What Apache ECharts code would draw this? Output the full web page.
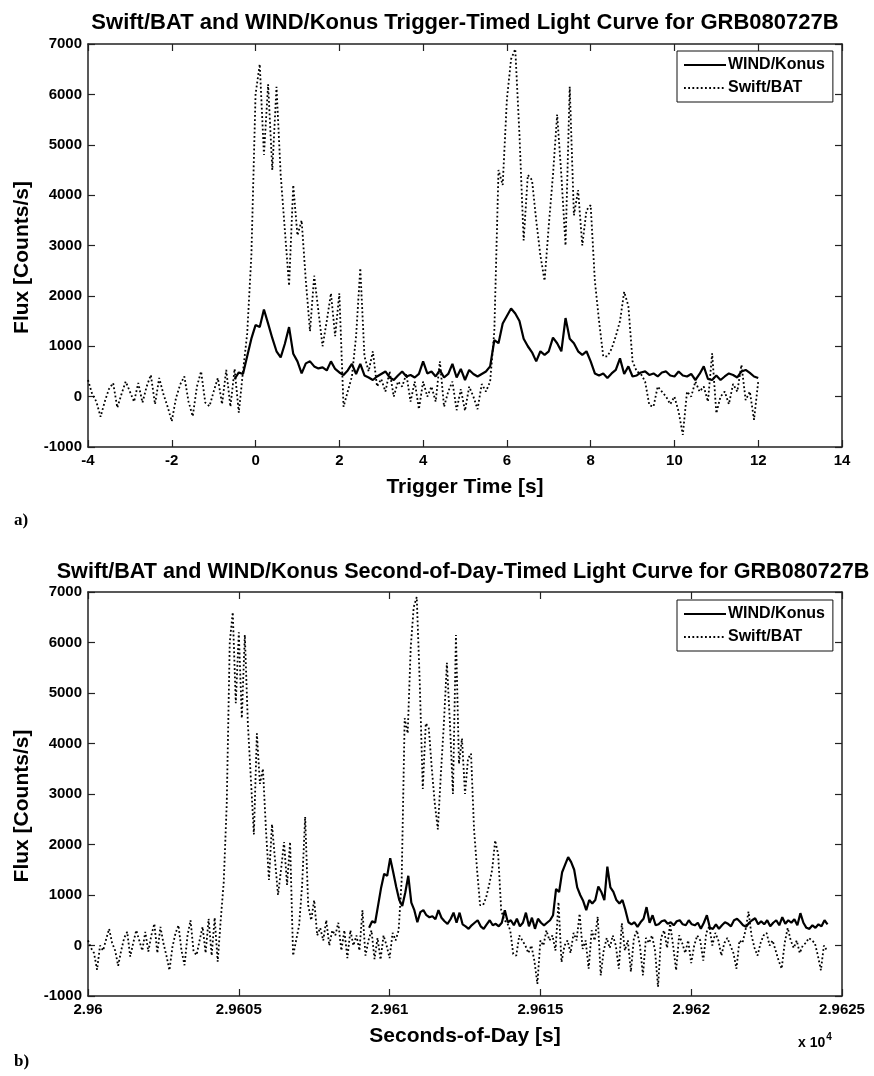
<!DOCTYPE html>
<html>
<head>
<meta charset="utf-8">
<title>GRB080727B light curves</title>
<script src="https://cdn.jsdelivr.net/npm/echarts@6/dist/echarts.min.js"></script>
<style>
    html, body { margin: 0; padding: 0; background: #fff; }
    #chart { width: 874px; height: 1076px; }
</style>
</head>
<body>
<div id="chart"></div>
<script>
    // Swift/BAT flux [counts/s], 0.1 s bins, trigger time starting at -4.7 s
    const batStart = -4.7;
    const batFlux = [
        100, -50, -150, -480, 0, -100, 120,
        330, 50, -100, -400, -100, 150, 270, -220, 50, 300,          // -4.0
        100, -100, 270, -120, 200, 430, -150, 370, 50, -200,         // -3.0
        -490, -30, 240, 400, -100, -390, 200, 500, -120, -190,       // -2.0
        100, 370, -150, 530, -200, 550, -320, 500, 1250, 2800,       // -1.0
        6000, 6600, 4800, 6200, 4500, 6150, 4400, 3300, 2200, 4200,  // 0.0
        3200, 3500, 2300, 1300, 2400, 1700, 1000, 1500, 2050, 1200,  // 1.0
        2050, -200, 100, 400, 1200, 2550, 800, 500, 900, 200,        // 2.0
        350, 100, 500, 0, 300, 200, 450, -100, 300, -250,            // 3.0
        300, 0, 200, -100, 700, -200, 100, 300, -270, 150,           // 4.0
        -280, 200, 0, -250, 250, 100, 300, 1300, 4500, 4200,         // 5.0
        5900, 6700, 6900, 5200, 3100, 4400, 4300, 3500, 2800, 2300,  // 6.0
        3400, 4400, 5600, 4400, 3000, 6150, 3600, 4100, 3000, 3700,  // 7.0
        3800, 2300, 1500, 800, 800, 950, 1200, 1500, 2080, 1800,     // 8.0
        700, 500, 450, 300, -170, -200, 200, 100, 0, -150,           // 9.0
        0, -300, -760, 100, 0, 300, 100, 200, -100, 860,             // 10.0
        -330, 0, 100, -150, 250, 100, 630, -70, 100, -460,           // 11.0
        300, 100, 570, -590, -100, 150, -50, 200, 0, -460,           // 12.0
        440, -100, 100, -520, 150, 300, 0, -590, 150, 50,            // 13.0
        200, -100, -820, 150, 300, -50, 430, 0, -490, 200,           // 14.0
        50, -150, 100, -350, 0, 200, 100, -300, 250, 380,            // 15.0
        0, 250, 100, -200, 50, 150, 0, -150, -460, 100,              // 16.0
        50, 300, 670, 200, -50, -200, 50, 200, 250, 0,               // 17.0
        100, -100, -300, -460, 50, 350, 100, -50, 100, -150,         // 18.0
        0, 50, 150, 100, 50, -200, -490, 0, -100                     // 19.0
    ];

    // WIND/Konus flux [counts/s], 0.1 s bins, trigger time starting at -0.5 s
    const konusStart = -0.5;
    const konusFlux = [
        350, 480, 450, 800, 1150,
        1420, 1380, 1730, 1450, 1160, 900, 780, 1050, 1380, 850,     // 0.0
        700, 460, 660, 700, 600, 560, 580, 520, 700, 550,            // 1.0
        480, 430, 520, 650, 450, 650, 420, 380, 330, 400,            // 2.0
        450, 500, 380, 330, 420, 500, 400, 430, 380, 450,            // 3.0
        700, 460, 500, 400, 530, 380, 450, 650, 380, 550,            // 4.0
        330, 530, 450, 400, 450, 500, 600, 1120, 1060, 1450,         // 5.0
        1600, 1750, 1650, 1500, 1150, 1000, 880, 700, 900, 830,      // 6.0
        900, 1170, 1060, 900, 1560, 1150, 1060, 900, 830, 900,       // 7.0
        700, 460, 420, 460, 370, 460, 530, 760, 450, 600,            // 8.0
        400, 420, 480, 500, 430, 460, 400, 480, 500, 420,            // 9.0
        400, 500, 420, 400, 450, 330, 450, 600, 350, 330,            // 10.0
        420, 330, 400, 460, 430, 380, 500, 530, 470, 400,            // 11.0
        370, 450, 500, 540, 420, 480, 420, 500, 380, 450,            // 12.0
        500, 400, 560, 430, 500, 450, 520, 400, 640, 450,            // 13.0
        350, 330, 400, 350, 420, 380, 500, 420                       // 14.0
    ];

    const binStep = 0.1;
    // trigger epochs in seconds of day
    const batTrigger = 29604.7;
    const konusTrigger = 29609.82;

    const fluxRange = [-1000, 7000, 1000];
    const trigRange = [-4, 14, 2];
    const sodRange = [29600, 29625, 5];

    const FONT = "'Liberation Sans', Arial, Helvetica, sans-serif";
    const AXIS_COLOR = '#222';

    function toPairs(start, values, offset, lo, hi) {
        let out = [];
        values.forEach(function (v, i) {
            let t = Math.round((start + i * binStep) * 10) / 10;
            if (t >= lo - 1e-6 && t <= hi + 1e-6) {
                out.push([t + offset, v]);
            }
        });
        return out;
    }

    function axisBase(gridIndex, range) {
        return {
            type: 'value', gridIndex: gridIndex,
            min: range[0], max: range[1], interval: range[2],
            axisLine: { show: true, onZero: false, lineStyle: { color: AXIS_COLOR, width: 1.5 } },
            axisTick: { show: true, inside: true, length: 7, lineStyle: { color: AXIS_COLOR, width: 1.2 } },
            splitLine: { show: false }
        };
    }

    function xAxes(gridIndex, range, name, fmt) {
        return [
            Object.assign(axisBase(gridIndex, range), {
                position: 'bottom',
                axisLabel: { show: true, margin: 6, color: '#000', fontFamily: FONT, fontWeight: 'bold', fontSize: 15, formatter: fmt },
                name: name, nameLocation: 'middle', nameGap: 30,
                nameTextStyle: { color: '#000', fontFamily: FONT, fontWeight: 'bold', fontSize: 21 }
            }),
            Object.assign(axisBase(gridIndex, range), { position: 'top', axisLabel: { show: false } })
        ];
    }

    function yAxes(gridIndex) {
        return [
            Object.assign(axisBase(gridIndex, fluxRange), {
                position: 'left',
                axisLabel: { show: true, margin: 6, color: '#000', fontFamily: FONT, fontWeight: 'bold', fontSize: 15,
                    formatter: function (v) { return String(v); } },
                name: 'Flux [Counts/s]', nameLocation: 'middle', nameGap: 47, nameRotate: 90,
                nameTextStyle: { color: '#000', fontFamily: FONT, fontWeight: 'bold', fontSize: 21, padding: [0, 24, 0, 0] }
            }),
            Object.assign(axisBase(gridIndex, fluxRange), { position: 'right', axisLabel: { show: false } })
        ];
    }

    function legendAt(top) {
        return {
            left: 677, top: top, orient: 'vertical',
            data: ['WIND/Konus', 'Swift/BAT'],
            itemWidth: 42, itemHeight: 14, itemGap: 7,
            padding: [6, 8, 6, 6],
            borderColor: '#111', borderWidth: 1, backgroundColor: '#fff',
            itemStyle: { opacity: 0 },
            textStyle: { color: '#000', fontFamily: FONT, fontWeight: 'bold', fontSize: 16, padding: [0, 0, 0, -3] }
        };
    }

    function batSeries(data, axis) {
        return {
            name: 'Swift/BAT', type: 'line', xAxisIndex: axis, yAxisIndex: axis,
            data: data, symbol: 'none', animation: false, z: 2,
            itemStyle: { color: '#000' },
            lineStyle: { color: '#000', width: 1.8, type: [1.8, 2.4] }
        };
    }

    function konusSeries(data, axis) {
        return {
            name: 'WIND/Konus', type: 'line', xAxisIndex: axis, yAxisIndex: axis,
            data: data, symbol: 'none', animation: false, z: 3,
            itemStyle: { color: '#000' },
            lineStyle: { color: '#000', width: 2.2 }
        };
    }

    let sodLabel = function (v) {
        return String(parseFloat((v / 10000).toFixed(4)));
    };

    let chart = echarts.init(document.getElementById('chart'));
    chart.setOption({
        backgroundColor: '#fff',
        animation: false,
        title: [
            {
                text: 'Swift/BAT and WIND/Konus Trigger-Timed Light Curve for GRB080727B',
                left: 460, top: 7, textAlign: 'center',
                textStyle: { color: '#000', fontFamily: FONT, fontWeight: 'bold', fontSize: 22 }
            },
            {
                text: 'Swift/BAT and WIND/Konus Second-of-Day-Timed Light Curve for GRB080727B',
                left: 458, top: 556, textAlign: 'center',
                textStyle: { color: '#000', fontFamily: FONT, fontWeight: 'bold', fontSize: 21.6 }
            }
        ],
        grid: [
            { left: 88, top: 44, width: 754, height: 403 },
            { left: 88, top: 592, width: 754, height: 404 }
        ],
        xAxis: xAxes(0, trigRange, 'Trigger Time [s]').concat(xAxes(1, sodRange, 'Seconds-of-Day [s]', sodLabel)),
        yAxis: yAxes(0).concat(yAxes(1)),
        legend: [legendAt(51), legendAt(600)],
        series: [
            batSeries(toPairs(batStart, batFlux, 0, -4, 12), 0),
            konusSeries(toPairs(konusStart, konusFlux, 0, -1, 12), 0),
            batSeries(toPairs(batStart, batFlux, batTrigger, -10, 30), 2),
            konusSeries(toPairs(konusStart, konusFlux, konusTrigger, -10, 30), 2)
        ],
        graphic: [
            { type: 'text', left: 14, top: 512, style: { text: 'a)', fill: '#000', font: "bold 17px 'Liberation Serif', 'Times New Roman', serif" } },
            { type: 'text', left: 14, top: 1053, style: { text: 'b)', fill: '#000', font: "bold 17px 'Liberation Serif', 'Times New Roman', serif" } },
            {
                type: 'text', left: 798, top: 1032,
                style: {
                    text: '{b|x 10}{s|4}', fill: '#000',
                    rich: {
                        b: { fontFamily: FONT, fontWeight: 'bold', fontSize: 14, verticalAlign: 'bottom' },
                        s: { fontFamily: FONT, fontWeight: 'bold', fontSize: 10, verticalAlign: 'top', padding: [0, 0, 8, 1] }
                    }
                }
            }
        ]
    });
</script>
</body>
</html>
